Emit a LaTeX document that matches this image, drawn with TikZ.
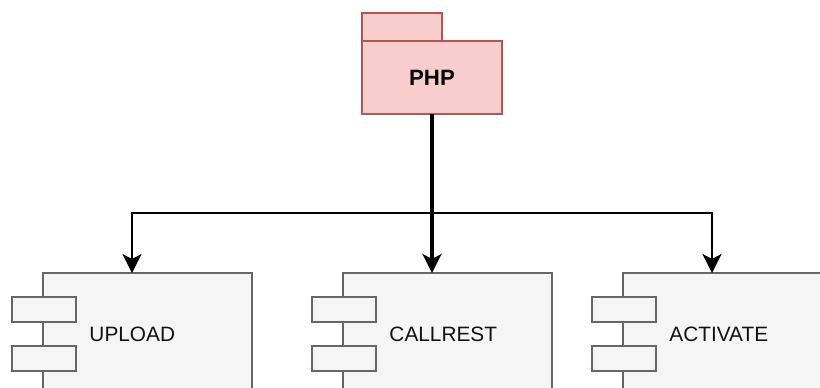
\documentclass[tikz,border=0pt]{standalone}
\usepackage{fontspec}
\setmainfont{Liberation Sans}
\usepackage{xcolor}
\usepackage{tikz}
\usetikzlibrary{arrows.meta,positioning,calc}
\definecolor{pkgfill}{HTML}{F8CECC}
\definecolor{pkgline}{HTML}{B85450}
\definecolor{compfill}{HTML}{F5F5F5}
\definecolor{compline}{HTML}{666666}
\definecolor{comptext}{HTML}{111111}
\tikzset{
  pkg/.style={rectangle,draw=pkgline,fill=pkgfill,line width=1.2pt,minimum width=35mm,minimum height=18.25mm,inner sep=0pt,outer sep=0pt,font=\fontsize{15.8}{18}\selectfont\bfseries},
  pkgtab/.style={draw=pkgline,fill=pkgfill,line width=1.2pt},
  comp/.style={rectangle,minimum width=60mm,minimum height=30.5mm,inner sep=0pt,outer sep=0pt},
  compbody/.style={draw=compline,fill=compfill,line width=1.2pt},
  port/.style={draw=compline,fill=compfill,line width=1.2pt},
  lab/.style={font=\fontsize{14.8}{18}\selectfont,text=comptext,inner sep=0pt,anchor=west},
  flow/.style={line width=1.3pt,black,-{Stealth[length=13.5pt,width=13.5pt,inset=3.5pt]}},
  flowmain/.style={flow,line width=2.4pt}
}

\begin{document}
\begin{tikzpicture}[x=0.25mm,y=-0.25mm]
  \useasboundingbox (0,0) rectangle (820,387);

  % package
  \node[pkg] (php) at (432,77.5) {PHP};
  \draw[pkgtab] (php.north west) rectangle ++(20mm,7mm);

  % components
  \foreach \n/\t/\x in {upload/UPLOAD/132,callrest/CALLREST/432,activate/ACTIVATE/712}{
    \node[comp] (\n) at (\x,334) {};
    \draw[compbody] ([xshift=7.75mm]\n.north west) rectangle (\n.south east);
    \draw[port] ([yshift=-6mm]\n.north west) rectangle ++(16mm,-6.25mm);
    \draw[port] ([yshift=-18.25mm]\n.north west) rectangle ++(16mm,-6.25mm);
    \node[lab] (\n-lab) at ([xshift=19.3mm]\n.west) {\t};
  }

  \draw[flow] (php.south) -- ++(0,-24.75mm) -| (upload.north);
  \draw[flow] (php.south) -- ++(0,-24.75mm) -| (activate.north);
  \draw[flowmain] (php.south) -- (callrest.north);
\end{tikzpicture}
\end{document}
